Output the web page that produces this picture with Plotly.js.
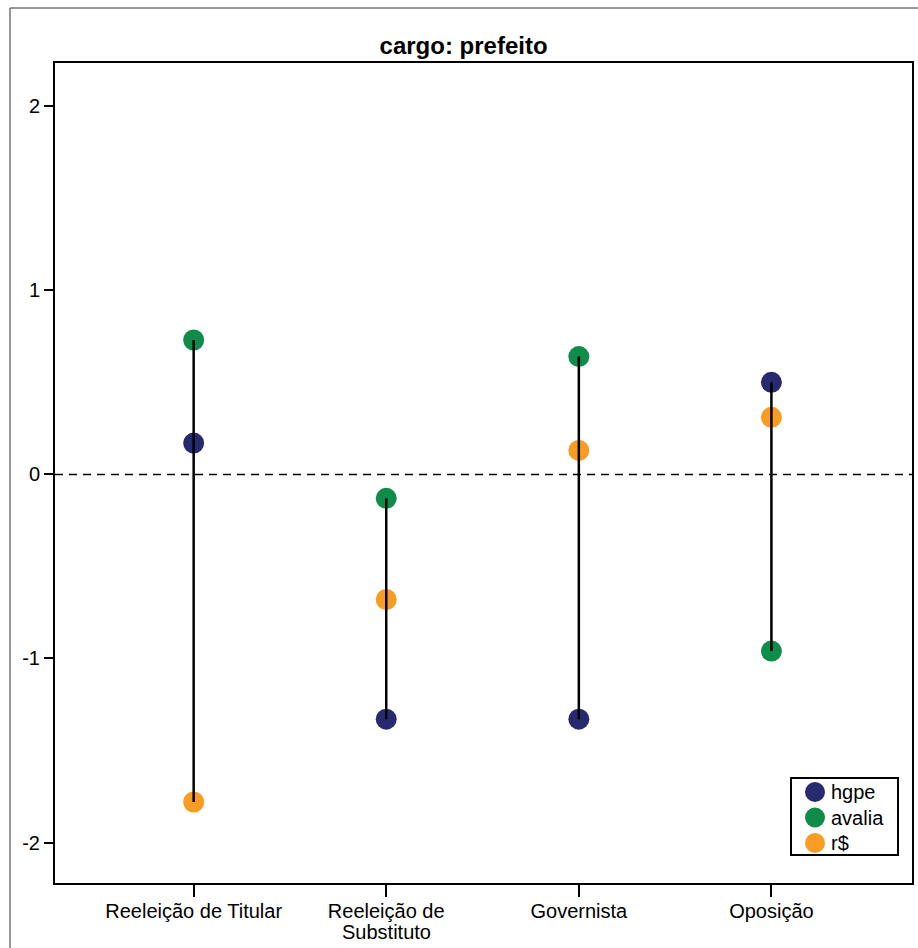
<!DOCTYPE html>
<html>
<head>
<meta charset="utf-8">
<script src="https://cdn.plot.ly/plotly-3.0.1.min.js"></script>
<style>body{margin:0;padding:0;background:#fff;} #chart{width:918px;height:948px;}</style>
</head>
<body>
<div id="chart"></div>
<script>
var categoryLines = [["Reeleição de Titular"], ["Reeleição de", "Substituto"], ["Governista"], ["Oposição"]];
var hgpe   = [0.17, -1.33, -1.33, 0.50];
var avalia = [0.73, -0.13, 0.64, -0.96];
var rs     = [-1.78, -0.68, 0.13, 0.31];
var seriesNames = ["hgpe", "avalia", "r$"];
var seriesColors = ["#272a6f", "#0f8b4a", "#f89c24"];
var yTickVals = [-2, -1, 0, 1, 2];
var yTickText = ["-2", "-1", "0", "1", "2"];

var W = 918, H = 948, L = 55, R = 6, T = 63, B = 65;
var pw = W - L - R, ph = H - T - B;
function px(x){ return (x - L) / pw; }
function py(y){ return (H - B - y) / ph; }

var xIdx = categoryLines.map(function(c, i){ return i; });
var traces = [];
[hgpe, avalia, rs].forEach(function(arr, k){
  traces.push({
    type: 'scatter', mode: 'markers', x: xIdx, y: arr, name: seriesNames[k],
    marker: {size: 21, color: seriesColors[k]}, cliponaxis: false, showlegend: false
  });
});
xIdx.forEach(function(i){
  var vals = [hgpe[i], avalia[i], rs[i]];
  traces.push({
    type: 'scatter', mode: 'lines', x: [i, i],
    y: [Math.min.apply(null, vals), Math.max.apply(null, vals)],
    line: {color: '#000', width: 2.5}, showlegend: false, hoverinfo: 'skip'
  });
});

var shapes = [
  {type: 'line', xref: 'paper', x0: 0, x1: 1, yref: 'y', y0: 0, y1: 0,
   line: {color: '#000', width: 1.5, dash: '8px,6px'}, layer: 'below'},
  {type: 'rect', xref: 'paper', yref: 'paper', x0: px(10), x1: px(930), y0: py(960), y1: py(8),
   line: {color: '#333', width: 1}, fillcolor: 'rgba(0,0,0,0)'},
  {type: 'rect', xref: 'paper', yref: 'paper', x0: px(791), x1: px(898), y0: py(855), y1: py(778),
   line: {color: '#000', width: 2}, fillcolor: '#fff'}
];
var annotations = [];
var legendY = [792, 817.5, 843];
seriesNames.forEach(function(n, k){
  shapes.push({type: 'circle', xref: 'paper', yref: 'paper', xsizemode: 'pixel', ysizemode: 'pixel',
    xanchor: px(815), yanchor: py(legendY[k]), x0: -10, x1: 10, y0: -10, y1: 10,
    line: {width: 0}, fillcolor: seriesColors[k]});
  annotations.push({xref: 'paper', yref: 'paper', x: px(829), y: py(legendY[k]), xanchor: 'left', yanchor: 'middle',
    text: n, showarrow: false, font: {size: 20, color: '#000'}});
});
categoryLines.forEach(function(lines, i){
  if (lines.length > 1) {
    annotations.push({xref: 'x', yref: 'paper', x: i, y: py(932), xanchor: 'center', yanchor: 'middle',
      text: lines[1], showarrow: false, font: {size: 20, color: '#000'}});
  }
});

var layout = {
  width: W, height: H,
  margin: {l: L, r: R, t: T, b: B},
  paper_bgcolor: '#fff', plot_bgcolor: '#fff',
  font: {family: 'Liberation Sans, Arial, sans-serif', size: 19, color: '#000'},
  title: {text: '<b>cargo: prefeito</b>', font: {size: 24, family: 'Liberation Sans, Arial, sans-serif', color: '#000'},
          xref: 'container', x: 0.505, xanchor: 'center', yref: 'container', y: 1 - 46/948, yanchor: 'middle'},
  xaxis: {
    range: [-0.72, 3.73], tickvals: xIdx, ticktext: categoryLines.map(function(l){ return l[0]; }),
    showgrid: false, zeroline: false, showline: true, linecolor: '#000', linewidth: 2, mirror: true,
    ticks: 'outside', ticklen: 12, tickwidth: 2, tickcolor: '#000', ticklabelstandoff: -3,
    tickfont: {size: 20}, fixedrange: true
  },
  yaxis: {
    range: [-2.22, 2.235], tickvals: yTickVals, ticktext: yTickText,
    showgrid: false, zeroline: false, showline: true, linecolor: '#000', linewidth: 2, mirror: true,
    ticks: 'outside', ticklen: 9, tickwidth: 2, tickcolor: '#000',
    tickfont: {size: 20}, fixedrange: true
  },
  shapes: shapes,
  annotations: annotations,
  showlegend: false
};

Plotly.newPlot('chart', traces, layout, {displayModeBar: false, staticPlot: true});
</script>
</body>
</html>
